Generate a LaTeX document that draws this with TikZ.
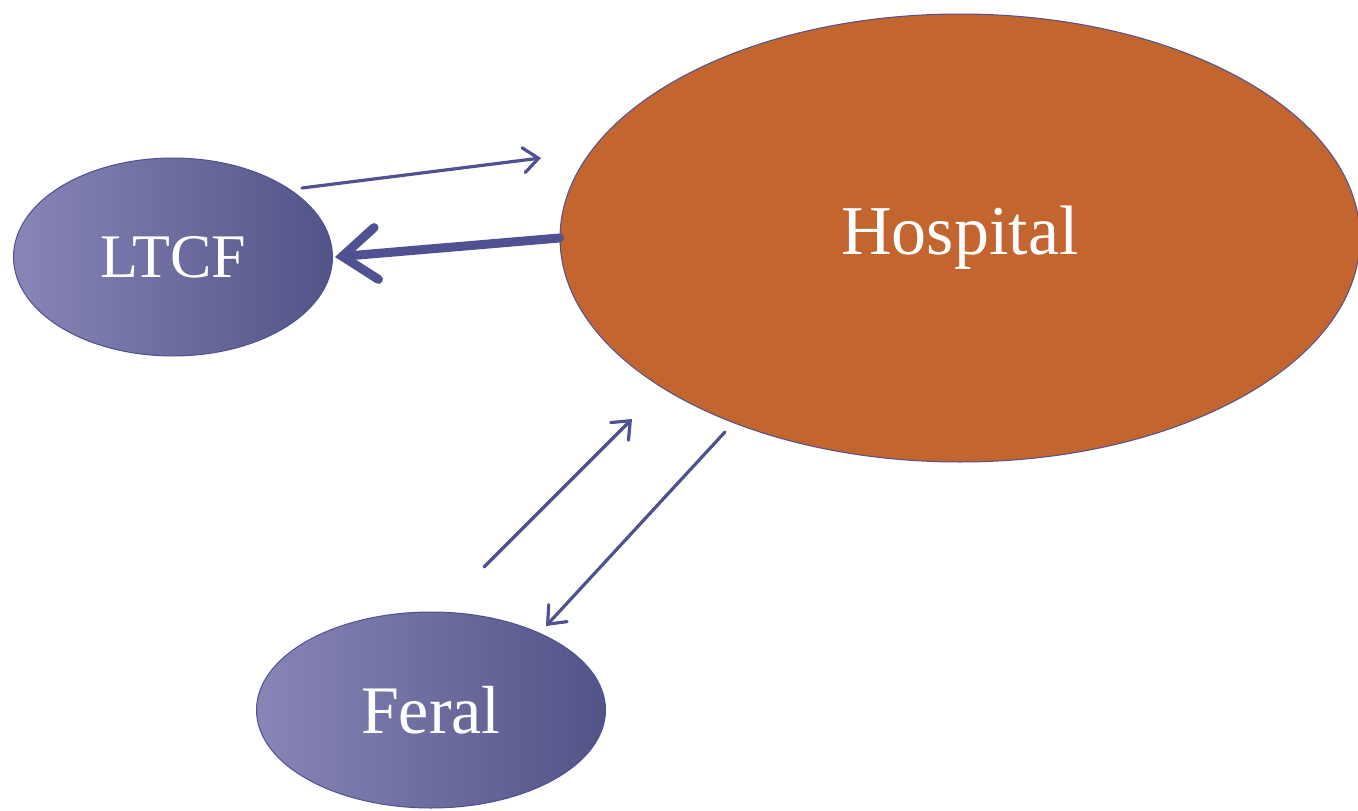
\documentclass[tikz,border=0pt]{standalone}
\usepackage{fontspec}
\setmainfont{Liberation Serif}
\usetikzlibrary{shapes.geometric,arrows.meta}
\definecolor{edgeblue}{HTML}{4F5190}
\definecolor{blobhi}{HTML}{8886B7}
\definecolor{bloblo}{HTML}{525387}
\definecolor{hospfill}{HTML}{C3652E}
\tikzset{
  site/.style={ellipse, inner sep=0pt, draw=edgeblue, line width=1pt,
    left color=blobhi, right color=bloblo, text=white},
  link/.style={draw=edgeblue, line width=3.2pt, line cap=round,
    -{Straight Barb[length=15pt,width=25pt,line cap=round]}},
  biglink/.style={draw=edgeblue, line width=9pt, line cap=round,
    -{Straight Barb[length=34pt,width=52pt,line cap=round]}},
}
\begin{document}
\begin{tikzpicture}[x=1pt,y=-1pt]
  \useasboundingbox (0,0) rectangle (1358,811);
  % care settings
  \node[ellipse, inner sep=0pt, draw=edgeblue, line width=1pt, fill=hospfill,
        minimum width=800pt, minimum height=448pt, text=white,
        font=\fontsize{70}{72}\selectfont] (hosp) at (960,238) {Hospital};
  \node[site, minimum width=319pt, minimum height=198pt,
        font=\fontsize{62}{64}\selectfont] (ltcf) at (173,257) {LTCF};
  \node[site, minimum width=349pt, minimum height=196pt,
        font=\fontsize{68}{70}\selectfont] (feral) at (431,710) {Feral};
  % free ends of the transfer arrows
  \coordinate (lo) at (302,188);
  \coordinate (li) at (541,158);
  \coordinate (fo) at (484,567);
  \coordinate (fi) at (632,419);
  \coordinate (ho) at (725,432);
  \coordinate (hi) at (546,626);
  % transfers
  \draw[link] (lo) -- (li);
  \draw[biglink] (hosp.west) -- ([xshift=2pt]ltcf.east);
  \draw[link] (fo) -- (fi);
  \draw[link] (ho) -- (hi);
\end{tikzpicture}
\end{document}
